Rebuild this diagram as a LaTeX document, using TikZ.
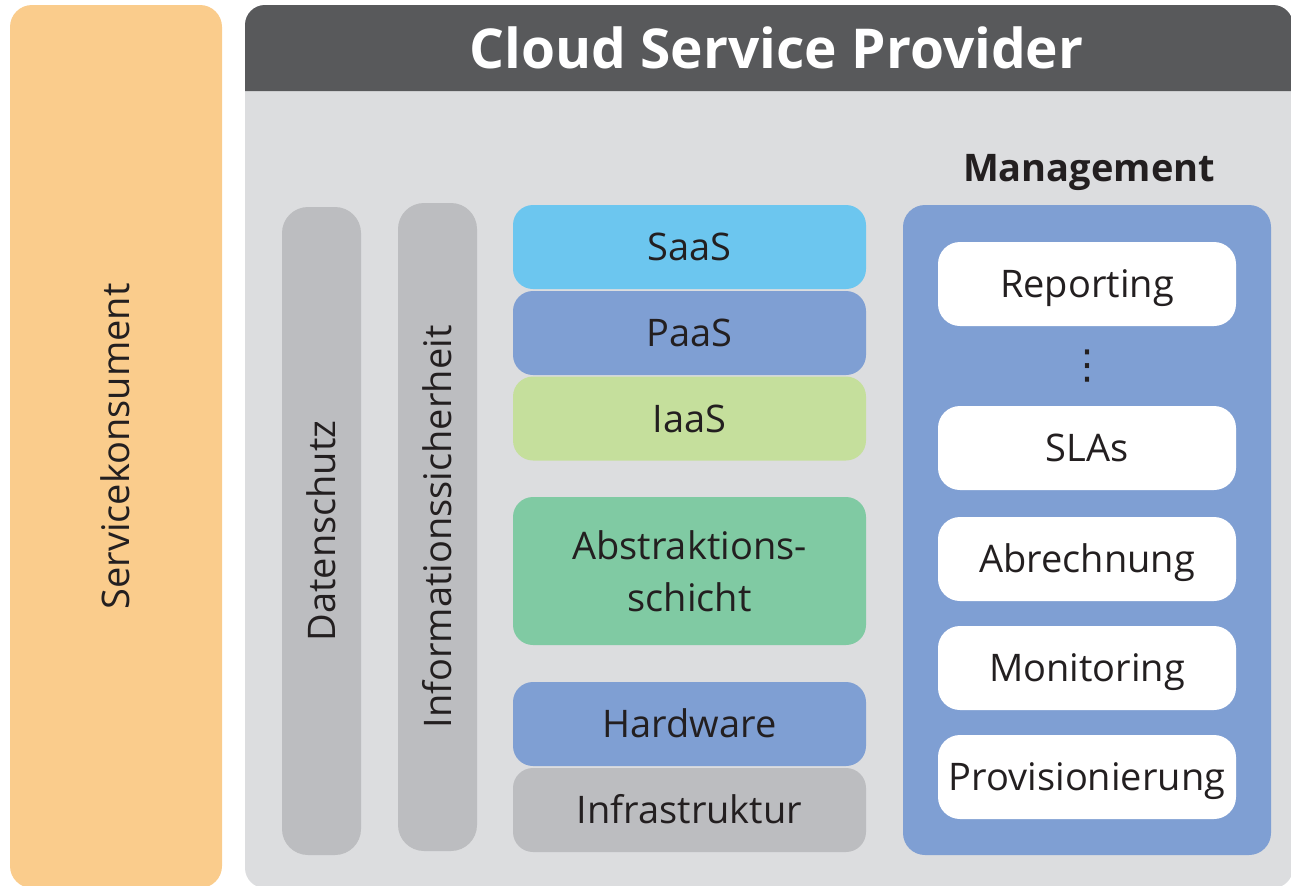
\documentclass[tikz,border=0pt]{standalone}
\usepackage{fontspec}
\setmainfont{Open Sans}
\newfontfamily\symfont{DejaVu Sans}
\definecolor{konsument}{HTML}{FACC8C}
\definecolor{headgray}{HTML}{58595B}
\definecolor{bodygray}{HTML}{DCDDDF}
\definecolor{pillgray}{HTML}{BCBDC0}
\definecolor{bluebox}{HTML}{7F9FD3}
\definecolor{lightblue}{HTML}{6CC6EF}
\definecolor{lightgreen}{HTML}{C5DF9C}
\definecolor{greenbox}{HTML}{80CAA3}
\definecolor{txt}{HTML}{231F20}
\tikzset{
  bodyfont/.style={font=\fontsize{38}{52}\selectfont, text=txt},
  capcenter/.style={text height=27pt, text depth=0pt},
  layerbox/.style={bodyfont, capcenter, rounded corners=20pt, inner sep=0pt,
    minimum width=353pt, minimum height=84pt},
  pillbox/.style={bodyfont, capcenter, fill=pillgray, rounded corners=26pt, inner sep=0pt,
    rotate=90, minimum width=648pt, minimum height=79pt},
  mgmtitem/.style={bodyfont, capcenter, fill=white, rounded corners=22pt, inner sep=0pt,
    minimum width=298pt, minimum height=84pt},
}
\begin{document}
\begin{tikzpicture}[x=1pt,y=-1pt]
\useasboundingbox (0,0) rectangle (1291,886);
% Service consumer
\node[bodyfont, capcenter, fill=konsument, rounded corners=22pt, inner sep=0pt, rotate=90,
  minimum width=883pt, minimum height=212pt] (konsument) at (116,446.5) {Servicekonsument};
% Provider container
\node[fill=bodygray, rounded corners=20pt, inner sep=0pt, minimum width=1048pt,
  minimum height=883pt] (provider) at (769,446.5) {};
\fill[headgray] (245,91) {[rounded corners=20pt] -- (245,5) -- (1293,5)} -- (1293,91) -- cycle;
\node[font=\fontsize{55}{60}\selectfont\bfseries, text=white, text height=39pt, text depth=0pt,
  inner sep=0pt] (title) at (776.5,49) {Cloud Service Provider};
% vertical pills
\node[pillbox] (datenschutz) at (321.5,531) {Datenschutz};
\node[pillbox] (infosec) at (437.5,527) {Informationssicherheit};
% layer stack
\node[layerbox, fill=lightblue] (saas) at (689.5,247) {SaaS};
\node[layerbox, fill=bluebox] (paas) at (689.5,333) {PaaS};
\node[layerbox, fill=lightgreen] (iaas) at (689.5,418.5) {IaaS};
\node[bodyfont, align=center, rounded corners=20pt, inner sep=0pt, fill=greenbox,
  minimum width=353pt, minimum height=148pt] (abstr) at (689.5,571) {Abstraktions-\\schicht};
\node[layerbox, fill=bluebox] (hardware) at (689.5,724) {Hardware};
\node[layerbox, fill=pillgray] (infra) at (689.5,810) {Infrastruktur};
% management
\node[font=\fontsize{38}{44}\selectfont\bfseries, text=txt, text height=27pt, text depth=0pt,
  inner sep=0pt] (mgmtlabel) at (1089,168) {Management};
\node[fill=bluebox, rounded corners=22pt, inner sep=0pt, minimum width=368pt,
  minimum height=650pt] (mgmt) at (1087,530) {};
\node[mgmtitem] (reporting) at (1087,284) {Reporting};
\node[font=\symfont\fontsize{40}{40}\selectfont, text=txt, inner sep=0pt] (dots) at (1087,366) {⋮};
\node[mgmtitem] (slas) at (1087,448) {SLAs};
\node[mgmtitem] (abrechnung) at (1087,559) {Abrechnung};
\node[mgmtitem] (monitoring) at (1087,668) {Monitoring};
\node[mgmtitem] (provisionierung) at (1087,777) {Provisionierung};
\end{tikzpicture}
\end{document}
